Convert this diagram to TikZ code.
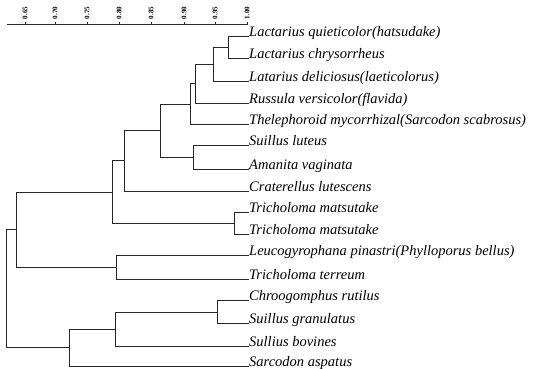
\documentclass[tikz,border=0pt]{standalone}
\usepackage{fontspec}
\setmainfont{Liberation Serif}
\newfontfamily\leaffamily{Liberation Serif}
\begin{document}
\begin{tikzpicture}[x=1pt,y=-1pt,
  br/.style={line width=0.9pt, draw=black!85, line join=miter},
  leaf/.style={anchor=base west, inner sep=0pt, font=\leaffamily\fontsize{14.5}{16}\selectfont\itshape},
  ticklab/.style={rotate=90, inner sep=0pt, font=\fontsize{7}{8}\selectfont\bfseries}]
\useasboundingbox (0,0) rectangle (538,368);
% axis
\coordinate (axL) at (7,24);
\coordinate (axR) at (248,24);
\draw[br] (axL) -- (axR);
\foreach \xx/\lab [count=\i] in {25/0.65,55/0.70,87/0.75,119/0.80,151/0.85,184/0.90,215/0.95,247/1.00}{
  \coordinate (t\i) at (\xx,24);
  \draw[br] (t\i) -- ++(0,-2);
  \node[ticklab] (tl\i) at (\xx,13) {\lab};
}
% leaves
\node[leaf] (L1) at (249,36) {Lactarius quieticolor(hatsudake)};
\node[leaf] (L2) at (249,58.3) {Lactarius chrysorrheus};
\node[leaf] (L3) at (249,81) {Latarius deliciosus(laeticolorus)};
\node[leaf] (L4) at (249,103.7) {Russula versicolor(flavida)};
\node[leaf] (L5) at (249,124.3) {Thelephoroid mycorrhizal(Sarcodon scabrosus)};
\node[leaf] (L6) at (249,145.7) {Suillus luteus};
\node[leaf] (L7) at (249,169) {Amanita vaginata};
\node[leaf] (L8) at (249,191) {Craterellus lutescens};
\node[leaf] (L9) at (249,212.7) {Tricholoma matsutake};
\node[leaf] (L10) at (249,234) {Tricholoma matsutake};
\node[leaf] (L11) at (249,255.7) {Leucogyrophana pinastri(Phylloporus bellus)};
\node[leaf] (L12) at (249,279) {Tricholoma terreum};
\node[leaf] (L13) at (249,300.7) {Chroogomphus rutilus};
\node[leaf] (L14) at (249,323.3) {Suillus granulatus};
\node[leaf] (L15) at (249,346) {Sullius bovines};
\node[leaf] (L16) at (249,366) {Sarcodon aspatus};
% internal nodes
\coordinate (n1) at (228.3,47.2);
\coordinate (n2) at (213.3,64.1);
\coordinate (n3) at (195.7,83.9);
\coordinate (n4) at (190.7,104.1);
\coordinate (n5) at (193.3,157.4);
\coordinate (n6) at (160,130.7);
\coordinate (n7) at (124,160.9);
\coordinate (n8) at (234,223.4);
\coordinate (n9) at (112,192.1);
\coordinate (n10) at (116.7,267.4);
\coordinate (n11) at (16,229.7);
\coordinate (n12) at (217.3,312);
\coordinate (n13) at (115.7,329);
\coordinate (n14) at (69.3,347.5);
\coordinate (root) at (6,288.6);
% branches
\draw[br] (n1) |- (L1.base west);
\draw[br] (n1) |- (L2.base west);
\draw[br] (n2) |- (n1);
\draw[br] (n2) |- (L3.base west);
\draw[br] (n3) |- (n2);
\draw[br] (n3) |- (L4.base west);
\draw[br] (n4) |- (n3);
\draw[br] (n4) |- (L5.base west);
\draw[br] (n5) |- (L6.base west);
\draw[br] (n5) |- (L7.base west);
\draw[br] (n6) |- (n4);
\draw[br] (n6) |- (n5);
\draw[br] (n7) |- (n6);
\draw[br] (n7) |- (L8.base west);
\draw[br] (n8) |- (L9.base west);
\draw[br] (n8) |- (L10.base west);
\draw[br] (n9) |- (n7);
\draw[br] (n9) |- (n8);
\draw[br] (n10) |- (L11.base west);
\draw[br] (n10) |- (L12.base west);
\draw[br] (n11) |- (n9);
\draw[br] (n11) |- (n10);
\draw[br] (n12) |- (L13.base west);
\draw[br] (n12) |- (L14.base west);
\draw[br] (n13) |- (n12);
\draw[br] (n13) |- (L15.base west);
\draw[br] (n14) |- (n13);
\draw[br] (n14) |- (L16.base west);
\draw[br] (root) |- (n11);
\draw[br] (root) |- (n14);
\end{tikzpicture}
\end{document}
